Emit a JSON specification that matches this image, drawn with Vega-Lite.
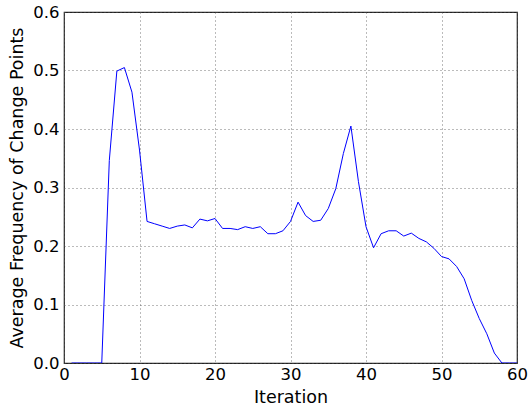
{
  "$schema": "https://vega.github.io/schema/vega-lite/v6.json",
  "autosize": "none",
  "padding": {"left": 64, "top": 12, "right": 11, "bottom": 48},
  "width": 453,
  "height": 351,
  "background": "white",
  "config": {
    "view": {"stroke": "#222222", "strokeWidth": 1.2},
    "font": "DejaVu Sans",
    "axis": {
      "labelFont": "DejaVu Sans",
      "titleFont": "DejaVu Sans",
      "labelFontSize": 16.5,
      "titleFontSize": 17.5,
      "titleFontWeight": "normal",
      "labelColor": "black",
      "titleColor": "black",
      "domain": false,
      "ticks": false,
      "labelFlush": false,
      "labelOverlap": false,
      "gridColor": "#555555",
      "gridDash": [1, 3],
      "gridOpacity": 0.8,
      "gridWidth": 1
    }
  },
  "data": {
    "values": [
      {"it": 1, "f": 0.0}, {"it": 2, "f": 0.0}, {"it": 3, "f": 0.0}, {"it": 4, "f": 0.0}, {"it": 5, "f": 0.0},
      {"it": 6, "f": 0.346}, {"it": 7, "f": 0.499}, {"it": 8, "f": 0.505}, {"it": 9, "f": 0.463}, {"it": 10, "f": 0.364},
      {"it": 11, "f": 0.242}, {"it": 12, "f": 0.238}, {"it": 13, "f": 0.234}, {"it": 14, "f": 0.230}, {"it": 15, "f": 0.234},
      {"it": 16, "f": 0.236}, {"it": 17, "f": 0.231}, {"it": 18, "f": 0.246}, {"it": 19, "f": 0.243}, {"it": 20, "f": 0.247},
      {"it": 21, "f": 0.230}, {"it": 22, "f": 0.230}, {"it": 23, "f": 0.228}, {"it": 24, "f": 0.233}, {"it": 25, "f": 0.230},
      {"it": 26, "f": 0.233}, {"it": 27, "f": 0.221}, {"it": 28, "f": 0.221}, {"it": 29, "f": 0.226}, {"it": 30, "f": 0.242},
      {"it": 31, "f": 0.275}, {"it": 32, "f": 0.252}, {"it": 33, "f": 0.242}, {"it": 34, "f": 0.244}, {"it": 35, "f": 0.264},
      {"it": 36, "f": 0.298}, {"it": 37, "f": 0.358}, {"it": 38, "f": 0.405}, {"it": 39, "f": 0.31}, {"it": 40, "f": 0.233},
      {"it": 41, "f": 0.197}, {"it": 42, "f": 0.221}, {"it": 43, "f": 0.226}, {"it": 44, "f": 0.226}, {"it": 45, "f": 0.217},
      {"it": 46, "f": 0.222}, {"it": 47, "f": 0.213}, {"it": 48, "f": 0.207}, {"it": 49, "f": 0.196}, {"it": 50, "f": 0.182},
      {"it": 51, "f": 0.178}, {"it": 52, "f": 0.165}, {"it": 53, "f": 0.144}, {"it": 54, "f": 0.107}, {"it": 55, "f": 0.076},
      {"it": 56, "f": 0.050}, {"it": 57, "f": 0.017}, {"it": 58, "f": 0.0}, {"it": 59, "f": 0.0}, {"it": 60, "f": 0.0}
    ]
  },
  "mark": {"type": "line", "color": "#0000ff", "strokeWidth": 1, "clip": true},
  "encoding": {
    "x": {
      "field": "it", "type": "quantitative", "title": "Iteration",
      "scale": {"domain": [0, 60], "nice": false, "zero": false},
      "axis": {"values": [0, 10, 20, 30, 40, 50, 60], "format": "d", "labelFontSize": 16.5, "labelPadding": 3, "titlePadding": 6}
    },
    "y": {
      "field": "f", "type": "quantitative", "title": "Average Frequency of Change Points",
      "scale": {"domain": [0, 0.6], "nice": false},
      "axis": {"values": [0, 0.1, 0.2, 0.3, 0.4, 0.5, 0.6], "format": ".1f", "labelFontSize": 16.5, "labelPadding": 5, "titlePadding": 6}
    }
  }
}
